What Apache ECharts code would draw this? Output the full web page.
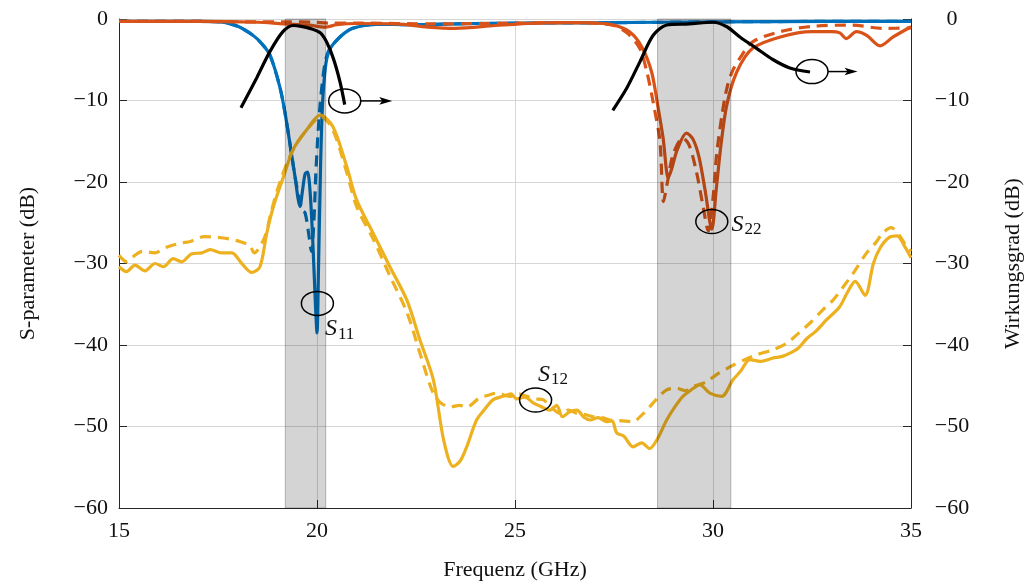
<!DOCTYPE html>
<html><head><meta charset="utf-8">
<script src="https://cdn.jsdelivr.net/npm/echarts@6/dist/echarts.min.js"></script>
<style>html,body{margin:0;padding:0;background:#fff}#c{width:1032px;height:586px}</style>
</head><body><div id="c"></div>
<script>
// ---- data ----
const xTicks = [15, 20, 25, 30, 35];
const yTicks = [-60, -50, -40, -30, -20, -10, 0];
const bands = [[19.2, 20.22], [28.6, 30.45]];

const s11SolidF = [15,16,17,17.55,18,18.38,18.6,18.81,19.07,19.23,19.36,19.45,19.52,19.57,19.63,19.7,19.76,19.83,19.9,19.96,20.0,20.04,20.09,20.13,20.18,20.25,20.35,20.5,20.7,20.9,21.2,21.5,22.35,24,27.4,30,33,35];
const s11SolidV = [-0.3,-0.3,-0.3,-0.35,-0.9,-2,-3,-4.4,-8.5,-12.6,-16.7,-19.5,-22,-23,-21.2,-19,-18.8,-21.5,-28,-35,-38.5,-30,-18,-11.5,-7.5,-4.8,-3.5,-2.6,-1.7,-1.15,-0.8,-0.65,-0.7,-0.55,-0.45,-0.35,-0.3,-0.3];
const s11DashF = [15,16,17,17.55,18,18.38,18.6,18.81,19.07,19.23,19.36,19.45,19.55,19.63,19.7,19.78,19.86,19.92,19.97,20.02,20.07,20.13,20.2,20.3,20.5,20.7,20.9,21.2,21.5,22.35,24,27.4,30,33,35];
const s11DashV = [-0.3,-0.3,-0.3,-0.35,-0.9,-2,-3,-4.4,-8.5,-12.6,-16.7,-19.5,-22,-23.5,-23.8,-26,-28.5,-25,-19,-14.5,-11,-8,-5.5,-3.8,-2.6,-1.7,-1.15,-0.8,-0.65,-0.7,-0.55,-0.45,-0.35,-0.3,-0.3];

const s22SolidF = [15,17,18.5,19.15,19.8,20.2,20.5,21,22,22.8,23.5,24.5,25.5,26.5,27,27.5,27.9,28.2,28.45,28.6,28.74,28.87,28.95,29.1,29.33,29.5,29.65,29.8,29.97,30.08,30.2,30.35,30.6,31,31.7,32.5,33,33.2,33.37,33.62,33.88,34.22,34.55,35];
const s22SolidV = [-0.3,-0.3,-0.4,-0.6,-0.75,-1.0,-0.7,-0.55,-0.6,-1.0,-1.15,-0.8,-0.5,-0.45,-0.5,-0.75,-1.6,-3.4,-6.5,-10.5,-14.6,-19.5,-18.5,-16,-14,-14.8,-17,-21,-25.8,-21,-15.5,-10.5,-6.5,-3.6,-2.2,-1.55,-1.55,-1.7,-2.4,-1.55,-2.0,-3.3,-2.2,-0.95];
const s22DashF = [15,17,18.5,19.3,19.9,20.3,21,23,25,26.5,27,27.5,27.85,28.15,28.33,28.5,28.66,28.75,28.85,29.0,29.24,29.4,29.58,29.75,29.88,30.0,30.09,30.22,30.35,30.5,30.68,31,31.7,32.5,33.5,34.3,35];
const s22DashV = [-0.3,-0.3,-0.35,-0.35,-0.4,-0.5,-0.5,-0.6,-0.5,-0.45,-0.5,-0.8,-1.8,-3.6,-6.5,-10.5,-15,-22.4,-20,-16.5,-14.6,-15.5,-18.7,-23,-26,-22,-16.7,-12,-8.5,-6.3,-4.8,-2.8,-1.55,-0.9,-0.75,-1.15,-1.1];

const s12SolidF = [15,15.19,15.4,15.66,15.91,16.12,16.37,16.58,16.84,17.09,17.3,17.59,17.85,18.1,18.35,18.56,18.73,18.9,19.15,19.4,19.74,20.08,20.4,20.75,21.0,21.42,21.84,22.27,22.6,22.94,23.2,23.44,23.62,23.78,24.03,24.25,24.45,24.7,24.9,25.04,25.25,25.46,25.68,25.88,26.05,26.2,26.38,26.56,26.75,26.9,27.1,27.3,27.45,27.57,27.75,27.98,28.2,28.4,28.6,28.83,29.05,29.24,29.45,29.67,29.92,30.22,30.5,30.7,30.93,31.2,31.52,31.75,31.94,32.15,32.37,32.6,32.87,33.2,33.4,33.59,33.84,34.05,34.22,34.45,34.65,34.85,35];
const s12SolidV = [-30.4,-31.0,-30.2,-30.9,-30.0,-30.4,-29.4,-29.8,-28.8,-28.7,-28.3,-28.7,-28.7,-30.0,-31.1,-30.4,-26.3,-23,-19.4,-16,-13.6,-11.8,-13.2,-18.1,-22.2,-26.3,-30.4,-34.5,-39.4,-44.3,-51.7,-54.9,-54.2,-52.5,-49.2,-47.8,-46.7,-46.3,-46.0,-46.6,-46.4,-47.1,-47.6,-48.0,-47.4,-48.8,-48.2,-48.0,-48.9,-49.2,-48.9,-49.4,-49.3,-50.8,-51.2,-52.5,-52.0,-52.7,-51.5,-49.2,-47.5,-46.3,-45.5,-44.9,-45.9,-46.3,-44.3,-43.2,-41.8,-42.0,-41.6,-41.4,-41.0,-40.4,-39.2,-38.3,-36.9,-35.3,-33.5,-32.2,-33.9,-30,-28.1,-26.8,-26.6,-28,-29.3];
const s12DashF = [15,15.2,15.4,15.6,15.9,16.2,16.55,16.8,17.15,17.5,17.8,18.05,18.3,18.42,18.55,18.7,18.85,19.1,19.4,19.74,20.1,20.4,20.75,21.0,21.42,21.84,22.27,22.6,22.9,23.1,23.36,23.6,23.78,24.1,24.3,24.54,24.87,25.1,25.3,25.5,25.7,25.95,26.14,26.35,26.56,26.75,26.97,27.2,27.4,27.7,27.98,28.2,28.4,28.6,28.83,29.08,29.3,29.5,29.84,30.1,30.5,30.8,31.1,31.5,31.86,32.15,32.45,32.75,33.03,33.3,33.54,33.88,34.1,34.3,34.5,34.7,34.9,35];
const s12DashV = [-29.0,-29.8,-29.0,-28.5,-28.7,-28.0,-27.5,-27.3,-26.7,-26.8,-27.0,-27.3,-27.8,-28.7,-28.0,-26.5,-23.5,-19.5,-16.0,-13.6,-12.0,-13.6,-18.8,-23,-27,-31.5,-36,-41,-45.5,-47,-47.6,-47.4,-47.6,-46.5,-46.2,-45.9,-46.3,-46.0,-46.3,-46.6,-46.7,-47.8,-48.4,-48.0,-48.4,-48.5,-48.8,-48.9,-49.2,-49.3,-49.4,-48.6,-47.6,-46.5,-45.5,-45.3,-45.6,-45.1,-44.5,-43.6,-42.5,-41.8,-41.2,-40.6,-39.8,-38.6,-37.3,-35.8,-34.5,-32.8,-31.2,-28.7,-27.5,-26.2,-25.6,-26.5,-28,-28.5];

const eff1F = [18.08,18.48,18.81,19.14,19.4,19.6,19.82,20.08,20.24,20.41,20.58,20.7];
const eff1V = [-10.9,-7.2,-4,-1.55,-0.8,-0.9,-1.15,-1.7,-2.8,-4.8,-7.7,-10.5];
const eff2F = [27.47,27.82,28.16,28.49,28.83,29.4,30.0,30.35,30.68,31.1,31.52,31.94,32.45];
const eff2V = [-11.2,-8.5,-5.2,-2,-0.74,-0.6,-0.4,-0.95,-2.2,-3.6,-5,-6,-6.5];

// annotation anchors (data coords)
const ringAnchors = [[20.7,-10.05],[32.5,-6.45],[20.01,-34.9],[29.97,-24.85],[25.52,-46.75]];
const arrowEnds = [[21.9,-10.05],[33.65,-6.45]];
const sLabels = [['S','11',20.2,-36.4],['S','22',30.47,-23.6],['S','12',25.58,-42.0]];

// ---- chart ----
const C_BLUE='#0072BD', C_ORANGE='#D95319', C_YELLOW='#EDB120';
const FONT='Liberation Serif';
const pairs=(f,v)=>f.map((x,i)=>[x,v[i]]);
const fmt=v=>v<0?'\u2212'+(-v):String(v);
function line(data,color,dashed,yIdx){
  return {type:'line',data:data,xAxisIndex:0,yAxisIndex:yIdx||0,showSymbol:false,symbol:'none',
    smooth:0.3,silent:true,z:2,
    lineStyle:{color:color,width:3.2,type:dashed?[11,7]:'solid',cap:'butt'}};
}
const chart=echarts.init(document.getElementById('c'),null,{renderer:'canvas'});
const axisLabelStyle={fontFamily:FONT,fontSize:22,color:'#111'};
chart.setOption({
  animation:false,
  grid:{left:119,right:121,top:19,bottom:78,containLabel:false},
  xAxis:{type:'value',min:xTicks[0],max:xTicks[xTicks.length-1],interval:5,
    name:'Frequenz (GHz)',nameLocation:'middle',nameGap:51,
    nameTextStyle:{fontFamily:FONT,fontSize:22,color:'#111'},
    axisLine:{show:true,onZero:false,lineStyle:{color:'#262626',width:1}},
    axisTick:{show:true,inside:true,length:8,lineStyle:{color:'#262626'}},
    axisLabel:Object.assign({margin:12},axisLabelStyle),
    splitLine:{show:true,lineStyle:{color:'#d6d6d6',width:1}}},
  yAxis:[
    {type:'value',min:yTicks[0],max:yTicks[yTicks.length-1],interval:10,position:'left',
     name:'S-parameter (dB)',nameLocation:'middle',nameGap:80,
     nameTextStyle:{fontFamily:FONT,fontSize:22,color:'#111'},
     axisLine:{show:true,onZero:false,lineStyle:{color:'#262626',width:1}},
     axisTick:{show:true,inside:true,length:8,lineStyle:{color:'#262626'}},
     axisLabel:Object.assign({margin:11,formatter:fmt},axisLabelStyle),
     splitLine:{show:true,lineStyle:{color:'#d6d6d6',width:1}}},
    {type:'value',min:yTicks[0],max:yTicks[yTicks.length-1],interval:10,position:'right',
     name:'Wirkungsgrad (dB)',nameLocation:'middle',nameGap:91,nameRotate:90,
     nameTextStyle:{fontFamily:FONT,fontSize:22,color:'#111'},
     axisLine:{show:true,onZero:false,lineStyle:{color:'#262626',width:1}},
     axisTick:{show:true,inside:true,length:8,lineStyle:{color:'#262626'}},
     axisLabel:Object.assign({margin:41,align:'center',formatter:fmt},axisLabelStyle),
     splitLine:{show:false}}
  ],
  series:[
    line(pairs(s11SolidF,s11SolidV),C_BLUE,false),
    line(pairs(s11DashF,s11DashV),C_BLUE,true),
    line(pairs(s22SolidF,s22SolidV),C_ORANGE,false),
    line(pairs(s22DashF,s22DashV),C_ORANGE,true),
    line(pairs(s12SolidF,s12SolidV),C_YELLOW,false),
    line(pairs(s12DashF,s12DashV),C_YELLOW,true),
    line(pairs(eff1F,eff1V),'#000',false,1),
    line(pairs(eff2F,eff2V),'#000',false,1),
    {type:'line',data:[],silent:true,z:10,
     markArea:{silent:true,z:10,itemStyle:{color:'rgba(0,0,0,0.17)',borderColor:'rgba(0,0,0,0.25)',borderWidth:1},
       data:bands.map(b=>[{xAxis:b[0]},{xAxis:b[1]}])}}
  ]
});
const px=p=>chart.convertToPixel({xAxisIndex:0,yAxisIndex:0},p);
const g=[];
ringAnchors.forEach(a=>{const p=px(a);
  g.push({type:'ellipse',silent:true,z:20,shape:{cx:p[0],cy:p[1],rx:16,ry:12},style:{fill:'none',stroke:'#000',lineWidth:1.5}});});
arrowEnds.forEach((e,i)=>{const s=px(ringAnchors[i]);const t=px(e);
  g.push({type:'line',silent:true,z:20,shape:{x1:s[0]+16,y1:s[1],x2:t[0]-8,y2:t[1]},style:{stroke:'#000',lineWidth:1.5}});
  g.push({type:'polygon',silent:true,z:20,shape:{points:[[t[0],t[1]],[t[0]-13,t[1]-3.8],[t[0]-10,t[1]],[t[0]-13,t[1]+3.8]]},style:{fill:'#000'}});});
sLabels.forEach(l=>{const p=px([l[2],l[3]]);
  g.push({type:'text',silent:true,z:20,x:p[0],y:p[1],style:{text:'{s|'+l[0]+'}{b|'+l[1]+'}',
    rich:{s:{fontFamily:FONT,fontSize:24,fontStyle:'italic',fill:'#111'},b:{fontFamily:FONT,fontSize:17,fill:'#111',padding:[10,0,0,1]}},
    verticalAlign:'top',align:'left'}});});
chart.setOption({graphic:g});
</script></body></html>
